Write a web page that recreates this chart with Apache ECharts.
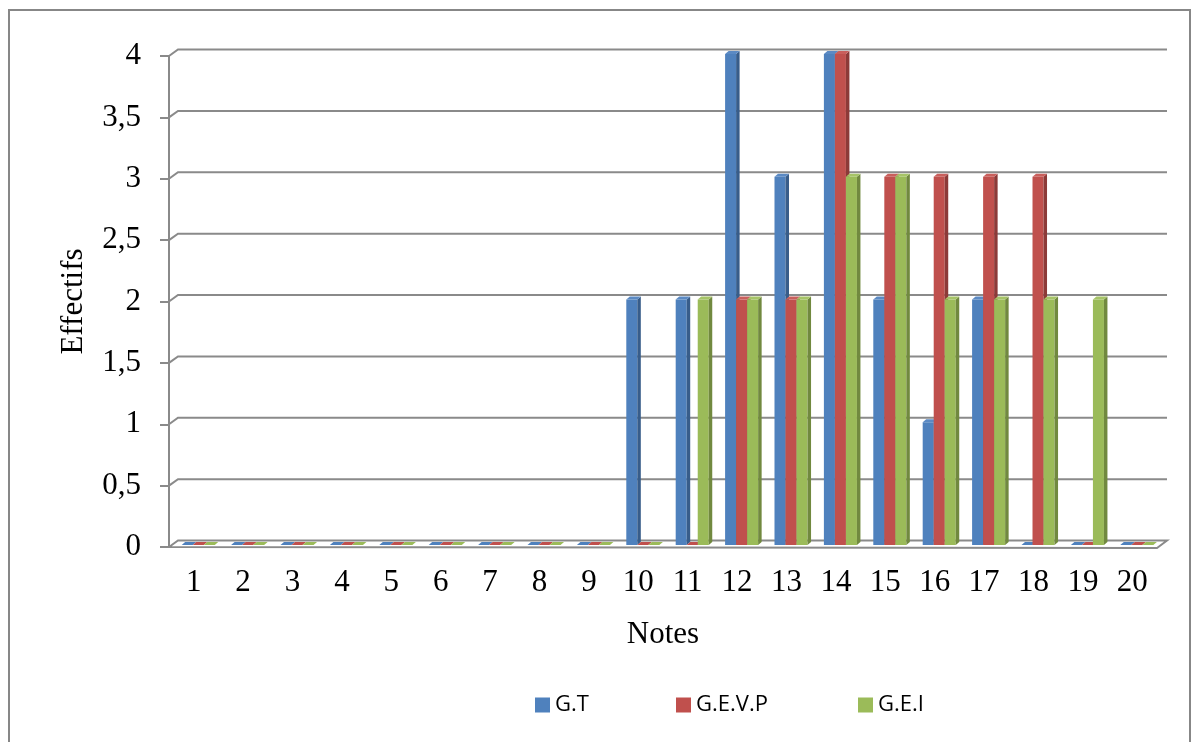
<!DOCTYPE html>
<html><head><meta charset="utf-8">
<script src="https://cdn.jsdelivr.net/npm/echarts@6/dist/echarts.min.js"></script>
<style>html,body{margin:0;padding:0;background:#fff}#c{width:1202px;height:742px}</style>
</head><body><div id="c"></div>
<script>
const categories = ['1','2','3','4','5','6','7','8','9','10','11','12','13','14','15','16','17','18','19','20'];
const seriesNames = ['G.T','G.E.V.P','G.E.I'];
const gt   = [0,0,0,0,0,0,0,0,0,2,2,4,3,4,2,1,2,0,0,0];
const gevp = [0,0,0,0,0,0,0,0,0,0,0,2,2,4,3,3,3,3,0,0];
const gei  = [0,0,0,0,0,0,0,0,0,0,2,2,2,3,3,2,2,2,2,0];
const yTicks = [0,0.5,1,1.5,2,2.5,3,3.5,4];

const front = ['#4F81BD','#C0504D','#9BBB59'];
const side  = ['#385D8A','#8C3A38','#71893F'];
const topc  = ['#5B8AC4','#C95F5C','#A6C467'];

const DX = 3.5, DY = -3;
function barRender(sIdx){
  return function(params, api){
    const i = api.value(0), v = api.value(1);
    const p0 = api.coord([i, 0]);
    const p1 = api.coord([i, v]);
    const bw = api.size([1, 0])[0];
    const w = bw * 0.223;
    const left = p0[0] - bw * 0.243 + sIdx * w;
    const yb = p0[1] - 2, yt = p1[1] - 2;
    const children = [];
    if (yb - yt > 0.1) {
      children.push({type:'rect', shape:{x:left, y:yt, width:w, height:yb-yt}, style:{fill:front[sIdx]}});
      children.push({type:'polygon', shape:{points:[[left+w,yt],[left+w+DX,yt+DY],[left+w+DX,yb+DY],[left+w,yb]]}, style:{fill:side[sIdx]}});
    }
    children.push({type:'polygon', shape:{points:[[left,yt],[left+DX,yt+DY],[left+w+DX,yt+DY],[left+w,yt]]}, style:{fill: yb-yt>0.1 ? topc[sIdx] : front[sIdx]}});
    return {type:'group', children};
  };
}

function wallRender(params, api){
  const v = api.value(0);
  const cs = params.coordSys;
  const x0 = cs.x, x1 = cs.x + cs.width;
  const y = api.coord([0, v])[1];
  const bx = 9, by = -6.5;
  if (v === 0) {
    return {type:'polygon', shape:{points:[[x0,y],[x0+bx,y+by],[x1+bx+1,y+by],[x1,y+1]]},
      style:{fill:'#ffffff', stroke:'#8a8a8a', lineWidth:2}};
  }
  return {type:'polyline', shape:{points:[[x0,y],[x0+bx,y+by],[x1+bx+1,y+by]]},
    style:{fill:null, stroke:'#8a8a8a', lineWidth:2}};
}

const chart = echarts.init(document.getElementById('c'));
const serif = '"Liberation Serif","Times New Roman",serif';
const legendText = {fontFamily:'"Open Sans",sans-serif', fontSize:22, color:'#000'};
function mkLegend(name, left){
  return {data:[name], left:left, top:689, icon:'rect', itemWidth:15, itemHeight:15, itemGap:0,
    textStyle:legendText, selectedMode:false};
}
chart.setOption({
  animation:false,
  backgroundColor:'#fff',
  graphic:[{type:'rect', shape:{x:9, y:10, width:1181, height:800}, style:{fill:null, stroke:'#878787', lineWidth:2}, z:-10}],
  legend:[mkLegend('G.T',530), mkLegend('G.E.V.P',671), mkLegend('G.E.I',853)],
  grid:{left:169, right:45, top:56, bottom:195},
  xAxis:{type:'category', data:categories,
    axisLine:{lineStyle:{color:'#8a8a8a', width:2}},
    axisTick:{length:9, lineStyle:{color:'#8a8a8a', width:2}},
    axisLabel:{fontFamily:serif, fontSize:31, color:'#000', margin:20},
    name:'Notes', nameLocation:'middle', nameGap:72,
    nameTextStyle:{fontFamily:serif, fontSize:31, color:'#000'}},
  yAxis:{type:'value', min:0, max:4, interval:0.5,
    axisLine:{show:true, lineStyle:{color:'#8a8a8a', width:2}},
    axisTick:{show:true, length:9, lineStyle:{color:'#8a8a8a', width:2}},
    splitLine:{show:false},
    axisLabel:{fontFamily:serif, fontSize:31, color:'#000', margin:28,
      formatter: v => String(v).replace('.', ',')},
    name:'Effectifs', nameLocation:'middle', nameGap:80, nameRotate:90,
    nameTextStyle:{fontFamily:serif, fontSize:31, color:'#000'}},
  series:[
    {type:'custom', name:'wall', silent:true, renderItem:wallRender, data:yTicks.map(v=>[v]),
      encode:{y:0}, z:1},
    {type:'custom', name:seriesNames[0], renderItem:barRender(0), itemStyle:{color:front[0]},
      data:gt.map((v,i)=>[i,v]), z:2},
    {type:'custom', name:seriesNames[1], renderItem:barRender(1), itemStyle:{color:front[1]},
      data:gevp.map((v,i)=>[i,v]), z:2},
    {type:'custom', name:seriesNames[2], renderItem:barRender(2), itemStyle:{color:front[2]},
      data:gei.map((v,i)=>[i,v]), z:2}
  ]
});
</script></body></html>
